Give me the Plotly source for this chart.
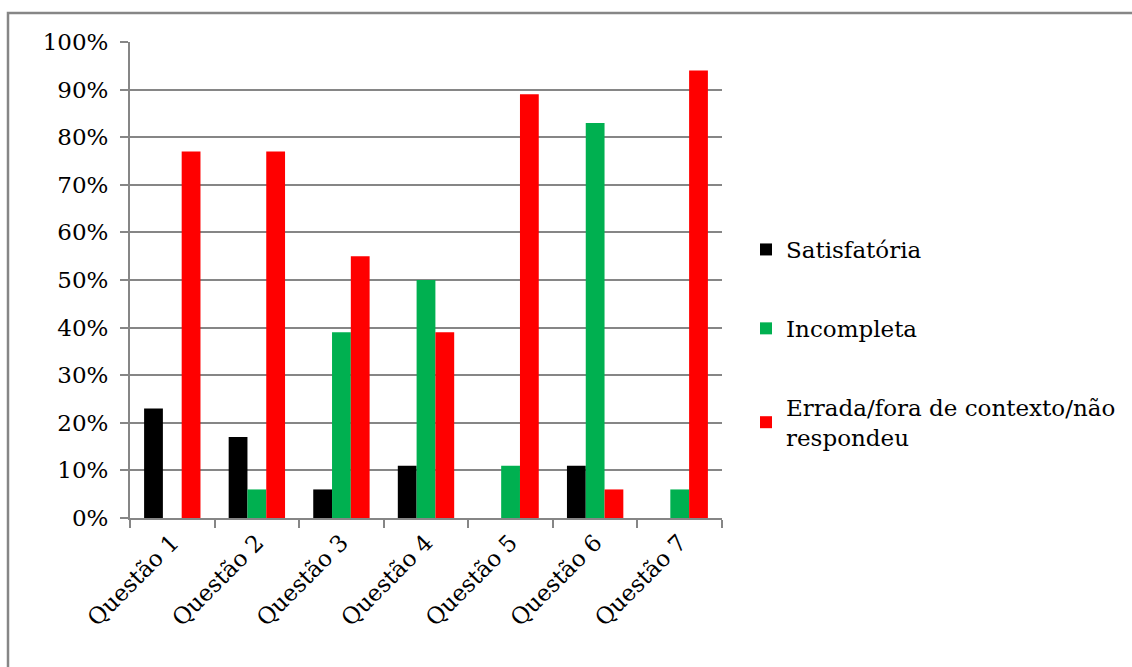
import plotly.graph_objects as go

questoes = ["Questão 1", "Questão 2", "Questão 3", "Questão 4", "Questão 5", "Questão 6", "Questão 7"]
satisfatoria = [0.23, 0.17, 0.06, 0.11, 0.0, 0.11, 0.0]
incompleta = [0.0, 0.06, 0.39, 0.50, 0.11, 0.83, 0.06]
errada = [0.77, 0.77, 0.55, 0.39, 0.89, 0.06, 0.94]

series = [
    ("Satisfatória", satisfatoria, "#000000"),
    ("Incompleta", incompleta, "#00B050"),
    ("Errada/fora de contexto/não<br>respondeu", errada, "#FF0000"),
]

FONT = "DejaVu Serif"
FS = 23
W, H = 1132, 667
L, R, T, B = 130, 722, 42, 518  # plot area in pixels

fig = go.Figure()
for i, (name, vals, color) in enumerate(series):
    fig.add_trace(go.Bar(
        x=questoes, y=vals, name=name, marker_color=color,
        marker_line_width=0, legendgroup=str(i),
    ))

def px_x(p):
    return (p - L) / (R - L)

def px_y(p):
    return (B - p) / (B - T)

fig.update_layout(
    width=W, height=H,
    margin=dict(l=L, r=W - R, t=T, b=H - B, autoexpand=False),
    paper_bgcolor="white", plot_bgcolor="white",
    barmode="group", bargap=1.5 / 4.5, bargroupgap=0,
    font=dict(family=FONT, size=FS, color="black"),
    showlegend=True,
    legend=dict(
        x=px_x(746), y=px_y(228), xanchor="left", yanchor="top",
        tracegroupgap=46, font=dict(family=FONT, size=FS, color="black"),
        bgcolor="rgba(0,0,0,0)", itemwidth=30,
    ),
    xaxis=dict(
        showgrid=False, showline=True, linecolor="#868686", linewidth=2,
        ticks="outside", tickson="boundaries", ticklen=8, tickwidth=2,
        tickcolor="#868686", tickangle=-45,
        tickfont=dict(family=FONT, size=FS, color="black"),
    ),
    yaxis=dict(
        range=[0, 1], tickvals=[i / 10 for i in range(11)], tickformat=".0%",
        showgrid=True, gridcolor="#868686", gridwidth=2,
        showline=True, linecolor="#868686", linewidth=2,
        ticks="outside", ticklen=8, tickwidth=2, tickcolor="#868686",
        ticklabelstandoff=7,
        tickfont=dict(family=FONT, size=FS, color="black"),
        zeroline=False,
    ),
    shapes=[dict(
        type="rect", xref="paper", yref="paper",
        x0=px_x(8), x1=px_x(1145), y0=px_y(685), y1=px_y(13),
        line=dict(color="#868686", width=2.5), fillcolor="rgba(0,0,0,0)",
        layer="below",
    )],
)

fig.write_html("out.html")
